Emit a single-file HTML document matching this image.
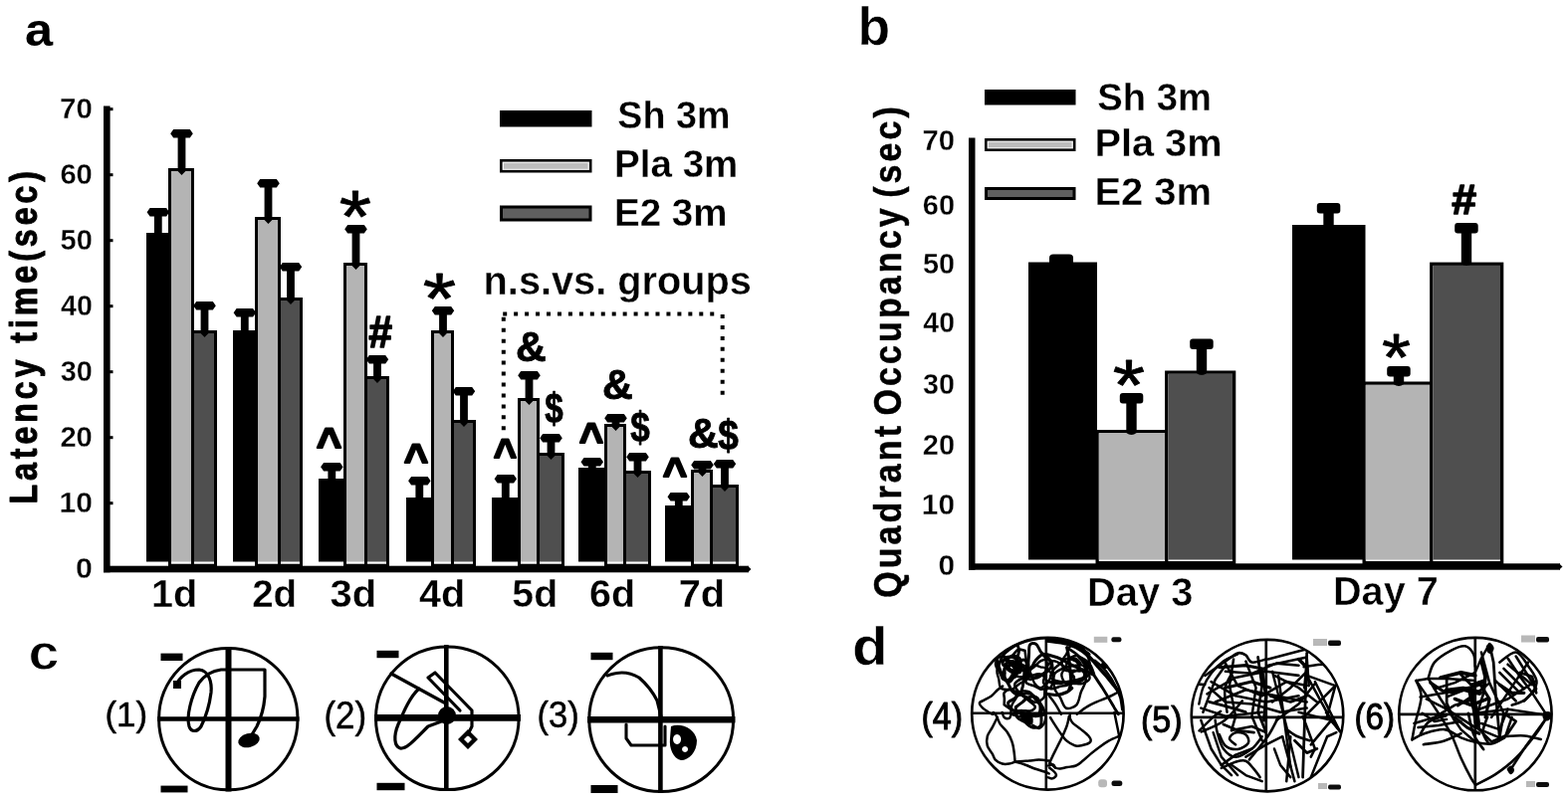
<!DOCTYPE html>
<html lang="en">
<head>
<meta charset="utf-8">
<title>Figure: latency time and quadrant occupancy</title>
<style>
html, body { margin: 0; padding: 0; background: #fff; }
body { width: 1575px; height: 807px; overflow: hidden; }
svg { display: block; }
svg text { font-family: "Liberation Sans", sans-serif; }
</style>
</head>
<body>
<svg width="1575" height="807" viewBox="0 0 1575 807" role="img" aria-label="Bar charts of latency time and quadrant occupancy with swim track plots">
<defs><filter id="soft" x="0" y="0" width="1575" height="807" filterUnits="userSpaceOnUse"><feGaussianBlur stdDeviation="0.5"/></filter></defs>
<rect width="1575" height="807" fill="#fff"/>
<g filter="url(#soft)">
<text transform="translate(24.99 45.54) scale(1.0885 1)" font-size="46.36" font-weight="bold" fill="#000">a</text>
<rect x="104.00" y="106.50" width="6.60" height="468.80" fill="#000"/>
<rect x="104.00" y="568.70" width="648.00" height="6.60" fill="#000"/>
<polygon points="751,568.7 754.5,572 751,575.3" fill="#000"/>
<text transform="translate(75.99 580.80) scale(1.0153 1)" font-size="29.86" font-weight="bold" fill="#000" stroke="#fff" stroke-width="0.3" stroke-linejoin="round">0</text>
<rect x="110.00" y="504.20" width="3.50" height="3.00" fill="#000"/>
<text transform="translate(59.45 514.80) scale(1.0064 1)" font-size="29.86" font-weight="bold" fill="#000" stroke="#fff" stroke-width="0.3" stroke-linejoin="round">10</text>
<rect x="110.00" y="438.20" width="3.50" height="3.00" fill="#000"/>
<text transform="translate(60.38 448.80) scale(0.9772 1)" font-size="29.86" font-weight="bold" fill="#000" stroke="#fff" stroke-width="0.3" stroke-linejoin="round">20</text>
<rect x="110.00" y="372.20" width="3.50" height="3.00" fill="#000"/>
<text transform="translate(60.68 382.80) scale(0.9679 1)" font-size="29.86" font-weight="bold" fill="#000" stroke="#fff" stroke-width="0.3" stroke-linejoin="round">30</text>
<rect x="110.00" y="306.20" width="3.50" height="3.00" fill="#000"/>
<text transform="translate(60.97 316.90) scale(0.9587 1)" font-size="29.86" font-weight="bold" fill="#000" stroke="#fff" stroke-width="0.3" stroke-linejoin="round">40</text>
<rect x="110.00" y="240.20" width="3.50" height="3.00" fill="#000"/>
<text transform="translate(60.53 250.70) scale(0.9725 1)" font-size="29.86" font-weight="bold" fill="#000" stroke="#fff" stroke-width="0.3" stroke-linejoin="round">50</text>
<rect x="110.00" y="174.20" width="3.50" height="3.00" fill="#000"/>
<text transform="translate(60.38 184.50) scale(0.9772 1)" font-size="29.86" font-weight="bold" fill="#000" stroke="#fff" stroke-width="0.3" stroke-linejoin="round">60</text>
<rect x="110.00" y="108.20" width="3.50" height="3.00" fill="#000"/>
<text transform="translate(60.07 119.20) scale(0.9867 1)" font-size="29.86" font-weight="bold" fill="#000" stroke="#fff" stroke-width="0.3" stroke-linejoin="round">70</text>
<text transform="translate(37.40 506.59) rotate(-90) scale(0.8200 1)" font-size="39.28" font-weight="bold" letter-spacing="4.77" word-spacing="0" stroke="#000" stroke-width="1.0" stroke-linejoin="round">Latency time(sec)</text>
<rect x="147.00" y="234.00" width="23.00" height="330.50" fill="#000"/>
<polygon points="147.6,213.2 150.6,209.0 167.1,209.0 170.1,213.2 167.1,217.4 162.7,217.4 162.7,235.0 154.9,235.0 154.9,217.4 150.6,217.4" fill="#000"/>
<rect x="170.50" y="170.50" width="23.00" height="397.70" fill="#fff" stroke="#000" stroke-width="3"/>
<rect x="172.00" y="172.00" width="20.00" height="392.50" fill="#b4b4b4"/>
<rect x="193.50" y="333.50" width="23.00" height="234.70" fill="#fff" stroke="#000" stroke-width="3"/>
<rect x="195.00" y="335.00" width="20.00" height="229.50" fill="#505050"/>
<polygon points="171.2,134.2 174.2,130.0 190.8,130.0 193.8,134.2 190.8,138.4 186.4,138.4 186.4,172.0 182.5,176.0 178.6,172.0 178.6,138.4 174.2,138.4" fill="#000"/>
<polygon points="194.2,307.2 197.2,303.0 213.8,303.0 216.8,307.2 213.8,311.4 209.4,311.4 209.4,335.0 205.5,339.0 201.6,335.0 201.6,311.4 197.2,311.4" fill="#000"/>
<text transform="translate(151.93 610.01) scale(1.0110 1)" font-size="39.18" font-weight="bold" fill="#000" stroke="#fff" stroke-width="0.3" stroke-linejoin="round">1d</text>
<rect x="234.00" y="332.00" width="23.00" height="232.50" fill="#000"/>
<polygon points="234.6,314.2 237.6,310.0 254.1,310.0 257.1,314.2 254.1,318.4 249.7,318.4 249.7,333.0 241.9,333.0 241.9,318.4 237.6,318.4" fill="#000"/>
<rect x="257.50" y="219.50" width="23.00" height="348.70" fill="#fff" stroke="#000" stroke-width="3"/>
<rect x="259.00" y="221.00" width="20.00" height="343.50" fill="#b4b4b4"/>
<rect x="280.50" y="300.50" width="22.00" height="267.70" fill="#fff" stroke="#000" stroke-width="3"/>
<rect x="282.00" y="302.00" width="19.00" height="262.50" fill="#505050"/>
<polygon points="258.2,184.2 261.2,180.0 277.8,180.0 280.8,184.2 277.8,188.4 273.4,188.4 273.4,221.0 269.5,225.0 265.6,221.0 265.6,188.4 261.2,188.4" fill="#000"/>
<polygon points="280.8,268.2 283.8,264.0 300.2,264.0 303.2,268.2 300.2,272.4 295.9,272.4 295.9,302.0 292.0,306.0 288.1,302.0 288.1,272.4 283.8,272.4" fill="#000"/>
<text transform="translate(253.15 610.01) scale(0.9825 1)" font-size="39.18" font-weight="bold" fill="#000" stroke="#fff" stroke-width="0.3" stroke-linejoin="round">2d</text>
<rect x="320.00" y="481.00" width="26.00" height="83.50" fill="#000"/>
<polygon points="322.1,469.2 325.1,465.0 341.6,465.0 344.6,469.2 341.6,473.4 337.2,473.4 337.2,482.0 329.4,482.0 329.4,473.4 325.1,473.4" fill="#000"/>
<rect x="346.50" y="265.50" width="21.00" height="302.70" fill="#fff" stroke="#000" stroke-width="3"/>
<rect x="348.00" y="267.00" width="18.00" height="297.50" fill="#b4b4b4"/>
<rect x="367.50" y="379.50" width="22.00" height="188.70" fill="#fff" stroke="#000" stroke-width="3"/>
<rect x="369.00" y="381.00" width="19.00" height="183.50" fill="#505050"/>
<polygon points="346.2,230.2 349.2,226.0 365.8,226.0 368.8,230.2 365.8,234.4 361.4,234.4 361.4,267.0 357.5,271.0 353.6,267.0 353.6,234.4 349.2,234.4" fill="#000"/>
<polygon points="367.8,361.2 370.8,357.0 387.2,357.0 390.2,361.2 387.2,365.4 382.9,365.4 382.9,381.0 379.0,385.0 375.1,381.0 375.1,365.4 370.8,365.4" fill="#000"/>
<text transform="translate(331.50 610.01) scale(1.0208 1)" font-size="39.18" font-weight="bold" fill="#000" stroke="#fff" stroke-width="0.3" stroke-linejoin="round">3d</text>
<rect x="408.00" y="500.00" width="26.00" height="64.50" fill="#000"/>
<polygon points="410.1,483.2 413.1,479.0 429.6,479.0 432.6,483.2 429.6,487.4 425.2,487.4 425.2,501.0 417.4,501.0 417.4,487.4 413.1,487.4" fill="#000"/>
<rect x="434.50" y="333.50" width="20.00" height="234.70" fill="#fff" stroke="#000" stroke-width="3"/>
<rect x="436.00" y="335.00" width="17.00" height="229.50" fill="#b4b4b4"/>
<rect x="454.50" y="423.50" width="22.00" height="144.70" fill="#fff" stroke="#000" stroke-width="3"/>
<rect x="456.00" y="425.00" width="19.00" height="139.50" fill="#505050"/>
<polygon points="433.8,312.2 436.8,308.0 453.2,308.0 456.2,312.2 453.2,316.4 448.9,316.4 448.9,335.0 445.0,339.0 441.1,335.0 441.1,316.4 436.8,316.4" fill="#000"/>
<polygon points="454.8,393.2 457.8,389.0 474.2,389.0 477.2,393.2 474.2,397.4 469.9,397.4 469.9,425.0 466.0,429.0 462.1,425.0 462.1,397.4 457.8,397.4" fill="#000"/>
<text transform="translate(420.91 610.01) scale(1.0114 1)" font-size="39.18" font-weight="bold" fill="#000" stroke="#fff" stroke-width="0.3" stroke-linejoin="round">4d</text>
<rect x="494.00" y="500.00" width="27.00" height="64.50" fill="#000"/>
<polygon points="496.6,481.2 499.6,477.0 516.0,477.0 519.0,481.2 516.0,485.4 511.7,485.4 511.7,501.0 503.9,501.0 503.9,485.4 499.6,485.4" fill="#000"/>
<rect x="521.50" y="401.50" width="19.00" height="166.70" fill="#fff" stroke="#000" stroke-width="3"/>
<rect x="523.00" y="403.00" width="16.00" height="161.50" fill="#b4b4b4"/>
<rect x="540.50" y="456.50" width="25.00" height="111.70" fill="#fff" stroke="#000" stroke-width="3"/>
<rect x="542.00" y="458.00" width="22.00" height="106.50" fill="#505050"/>
<polygon points="520.2,377.2 523.2,373.0 539.8,373.0 542.8,377.2 539.8,381.4 535.4,381.4 535.4,403.0 531.5,407.0 527.6,403.0 527.6,381.4 523.2,381.4" fill="#000"/>
<polygon points="542.2,440.2 545.2,436.0 561.8,436.0 564.8,440.2 561.8,444.4 557.4,444.4 557.4,458.0 553.5,462.0 549.6,458.0 549.6,444.4 545.2,444.4" fill="#000"/>
<text transform="translate(514.32 610.01) scale(1.0018 1)" font-size="39.18" font-weight="bold" fill="#000" stroke="#fff" stroke-width="0.3" stroke-linejoin="round">5d</text>
<rect x="581.00" y="470.00" width="27.00" height="94.50" fill="#000"/>
<polygon points="583.5,464.2 586.5,460.0 603.0,460.0 606.0,464.2 603.0,468.4 598.7,468.4 598.7,471.0 590.9,471.0 590.9,468.4 586.5,468.4" fill="#000"/>
<rect x="608.50" y="427.50" width="19.00" height="140.70" fill="#fff" stroke="#000" stroke-width="3"/>
<rect x="610.00" y="429.00" width="16.00" height="135.50" fill="#b4b4b4"/>
<rect x="627.50" y="474.50" width="25.00" height="93.70" fill="#fff" stroke="#000" stroke-width="3"/>
<rect x="629.00" y="476.00" width="22.00" height="88.50" fill="#505050"/>
<polygon points="607.2,420.2 610.2,416.0 626.8,416.0 629.8,420.2 626.8,424.4 622.4,424.4 622.4,429.0 618.5,433.0 614.6,429.0 614.6,424.4 610.2,424.4" fill="#000"/>
<polygon points="629.2,459.2 632.2,455.0 648.8,455.0 651.8,459.2 648.8,463.4 644.4,463.4 644.4,476.0 640.5,480.0 636.6,476.0 636.6,463.4 632.2,463.4" fill="#000"/>
<text transform="translate(592.12 610.01) scale(1.0065 1)" font-size="39.18" font-weight="bold" fill="#000" stroke="#fff" stroke-width="0.3" stroke-linejoin="round">6d</text>
<rect x="668.00" y="508.00" width="27.00" height="56.50" fill="#000"/>
<polygon points="670.5,499.2 673.5,495.0 690.0,495.0 693.0,499.2 690.0,503.4 685.7,503.4 685.7,509.0 677.9,509.0 677.9,503.4 673.5,503.4" fill="#000"/>
<rect x="695.50" y="473.50" width="19.00" height="94.70" fill="#fff" stroke="#000" stroke-width="3"/>
<rect x="697.00" y="475.00" width="16.00" height="89.50" fill="#b4b4b4"/>
<rect x="714.50" y="488.50" width="26.00" height="79.70" fill="#fff" stroke="#000" stroke-width="3"/>
<rect x="716.00" y="490.00" width="23.00" height="74.50" fill="#505050"/>
<polygon points="694.2,467.2 697.2,463.0 713.8,463.0 716.8,467.2 713.8,471.4 709.4,471.4 709.4,475.0 705.5,479.0 701.6,475.0 701.6,471.4 697.2,471.4" fill="#000"/>
<polygon points="716.8,466.2 719.8,462.0 736.2,462.0 739.2,466.2 736.2,470.4 731.9,470.4 731.9,490.0 728.0,494.0 724.1,490.0 724.1,470.4 719.8,470.4" fill="#000"/>
<text transform="translate(681.71 610.01) scale(1.0160 1)" font-size="39.18" font-weight="bold" fill="#000" stroke="#fff" stroke-width="0.3" stroke-linejoin="round">7d</text>
<rect x="502.00" y="111.00" width="92.50" height="16.50" fill="#000"/>
<rect x="503.30" y="161.30" width="89.90" height="10.90" fill="#f4f4f4" stroke="#000" stroke-width="2.6"/>
<rect x="506.00" y="163.80" width="84.50" height="5.90" fill="#bdbdbd"/>
<rect x="503.50" y="208.00" width="89.50" height="13.00" fill="#5e5e5e" stroke="#000" stroke-width="3"/>
<text transform="translate(620.37 128.91) scale(0.9553 1)" font-size="39.46" font-weight="bold" fill="#000" stroke="#fff" stroke-width="0.3" stroke-linejoin="round">Sh 3m</text>
<text transform="translate(616.99 177.91) scale(0.9854 1)" font-size="39.18" font-weight="bold" fill="#000" stroke="#fff" stroke-width="0.3" stroke-linejoin="round">Pla 3m</text>
<text transform="translate(616.99 226.91) scale(0.9844 1)" font-size="39.15" font-weight="bold" fill="#000" stroke="#fff" stroke-width="0.3" stroke-linejoin="round">E2 3m</text>
<text transform="translate(485.62 295.87) scale(0.9896 1)" font-size="40.13" font-weight="bold" fill="#000" stroke="#fff" stroke-width="0.35" stroke-linejoin="round">n.s.vs. groups</text>
<g fill="none" stroke="#000" stroke-width="4" stroke-dasharray="4 6.95"><path d="M505.2,315.6 H719"/><path d="M725.7,316 V397"/><path d="M505.8,318.8 V433"/></g>
<text transform="translate(340.84 242.76) scale(1.1154 1)" font-size="74.29" font-weight="normal" fill="#000" stroke="#000" stroke-width="0.8" stroke-linejoin="round">*</text>
<text transform="translate(424.79 324.79) scale(1.2000 1)" font-size="71.43" font-weight="normal" fill="#000" stroke="#000" stroke-width="0.8" stroke-linejoin="round">*</text>
<text transform="translate(370.16 349.20) scale(0.9544 1)" font-size="44.71" font-weight="bold" fill="#000" stroke="#000" stroke-width="1.5" stroke-linejoin="round">#</text>
<text transform="translate(317.71 460.57) scale(0.9807 1)" font-size="44.60" font-weight="bold" fill="#000" stroke="#000" stroke-width="2.0" stroke-linejoin="round">^</text>
<text transform="translate(405.75 475.99) scale(0.9898 1)" font-size="42.30" font-weight="bold" fill="#000" stroke="#000" stroke-width="2.0" stroke-linejoin="round">^</text>
<text transform="translate(495.80 470.99) scale(0.9457 1)" font-size="42.30" font-weight="bold" fill="#000" stroke="#000" stroke-width="2.0" stroke-linejoin="round">^</text>
<text transform="translate(581.75 455.57) scale(0.9388 1)" font-size="44.60" font-weight="bold" fill="#000" stroke="#000" stroke-width="2.0" stroke-linejoin="round">^</text>
<text transform="translate(665.75 489.99) scale(0.9898 1)" font-size="42.30" font-weight="bold" fill="#000" stroke="#000" stroke-width="2.0" stroke-linejoin="round">^</text>
<text transform="translate(517.89 362.77) scale(0.9782 1)" font-size="43.43" font-weight="bold" fill="#000" stroke="#000" stroke-width="0.9" stroke-linejoin="round">&amp;</text>
<text transform="translate(604.89 400.77) scale(0.9782 1)" font-size="43.43" font-weight="bold" fill="#000" stroke="#000" stroke-width="0.9" stroke-linejoin="round">&amp;</text>
<text transform="translate(690.89 449.77) scale(0.9782 1)" font-size="43.43" font-weight="bold" fill="#000" stroke="#000" stroke-width="0.9" stroke-linejoin="round">&amp;</text>
<text transform="translate(547.30 424.94) scale(0.7630 1)" font-size="43.44" font-weight="bold" fill="#000" stroke="#000" stroke-width="0.9" stroke-linejoin="round">$</text>
<text transform="translate(633.27 443.94) scale(0.8069 1)" font-size="43.44" font-weight="bold" fill="#000" stroke="#000" stroke-width="0.9" stroke-linejoin="round">$</text>
<text transform="translate(721.25 451.94) scale(0.8507 1)" font-size="43.44" font-weight="bold" fill="#000" stroke="#000" stroke-width="0.9" stroke-linejoin="round">$</text>
<text transform="translate(861.52 44.97) scale(1.0076 1)" font-size="53.06" font-weight="bold" fill="#000" stroke="#fff" stroke-width="0.5" stroke-linejoin="round">b</text>
<rect x="973.00" y="138.50" width="6.50" height="434.20" fill="#000"/>
<rect x="973.00" y="566.30" width="594.00" height="6.40" fill="#000"/>
<polygon points="1566,566.3 1569.5,569.5 1566,572.7" fill="#000"/>
<text transform="translate(926.48 151.40) scale(0.9802 1)" font-size="29.86" font-weight="bold" fill="#000" stroke="#fff" stroke-width="0.3" stroke-linejoin="round">70</text>
<text transform="translate(926.79 215.80) scale(0.9707 1)" font-size="29.86" font-weight="bold" fill="#000" stroke="#fff" stroke-width="0.3" stroke-linejoin="round">60</text>
<text transform="translate(926.93 274.80) scale(0.9661 1)" font-size="29.86" font-weight="bold" fill="#000" stroke="#fff" stroke-width="0.3" stroke-linejoin="round">50</text>
<text transform="translate(927.37 334.30) scale(0.9523 1)" font-size="29.86" font-weight="bold" fill="#000" stroke="#fff" stroke-width="0.3" stroke-linejoin="round">40</text>
<text transform="translate(927.08 396.30) scale(0.9615 1)" font-size="29.86" font-weight="bold" fill="#000" stroke="#fff" stroke-width="0.3" stroke-linejoin="round">30</text>
<text transform="translate(926.79 456.80) scale(0.9707 1)" font-size="29.86" font-weight="bold" fill="#000" stroke="#fff" stroke-width="0.3" stroke-linejoin="round">20</text>
<text transform="translate(925.86 516.80) scale(0.9997 1)" font-size="29.86" font-weight="bold" fill="#000" stroke="#fff" stroke-width="0.3" stroke-linejoin="round">10</text>
<text transform="translate(942.40 578.30) scale(1.0012 1)" font-size="29.86" font-weight="bold" fill="#000" stroke="#fff" stroke-width="0.3" stroke-linejoin="round">0</text>
<text transform="translate(904.50 600.86) rotate(-90) scale(0.8600 1)" font-size="39.57" font-weight="bold" letter-spacing="3.60" word-spacing="-6" stroke="#000" stroke-width="0.5" stroke-linejoin="round">Quadrant Occupancy (sec)</text>
<rect x="1033.00" y="263.50" width="69.00" height="299.00" fill="#000"/>
<path d="M1054,264 V259 Q1054,255.5 1058,255.5 H1074 Q1078,255.5 1078,259 V264 Z" fill="#000"/>
<rect x="1102.15" y="433.65" width="69.60" height="132.00" fill="#fff" stroke="#000" stroke-width="3.3"/>
<rect x="1103.80" y="435.30" width="66.30" height="127.20" fill="#b4b4b4"/>
<rect x="1171.75" y="374.15" width="67.90" height="191.50" fill="#fff" stroke="#000" stroke-width="3.3"/>
<rect x="1173.40" y="375.80" width="64.60" height="186.70" fill="#505050"/>
<rect x="1124.8" y="395.0" width="23.5" height="10.4" rx="3" fill="#000"/>
<path d="M1131.3,397.0 H1141.7 V435.0 Q1136.5,439.0 1131.3,435.0 Z" fill="#000"/>
<rect x="1195.2" y="340.5" width="23.5" height="10.4" rx="3" fill="#000"/>
<path d="M1201.8,342.5 H1212.2 V375.0 Q1207.0,379.0 1201.8,375.0 Z" fill="#000"/>
<rect x="1298.00" y="226.00" width="73.50" height="336.50" fill="#000"/>
<rect x="1322.8" y="204.0" width="23.5" height="10.4" rx="3" fill="#000"/>
<path d="M1329.3,206.0 H1339.7 V228.0 Q1334.5,232.0 1329.3,228.0 Z" fill="#000"/>
<rect x="1370.15" y="385.15" width="67.60" height="180.50" fill="#fff" stroke="#000" stroke-width="3.3"/>
<rect x="1371.80" y="386.80" width="64.30" height="175.70" fill="#b4b4b4"/>
<rect x="1437.75" y="265.25" width="70.90" height="300.40" fill="#fff" stroke="#000" stroke-width="3.3"/>
<rect x="1439.40" y="266.90" width="67.60" height="295.60" fill="#505050"/>
<rect x="1393.2" y="368.0" width="23.5" height="10.4" rx="3" fill="#000"/>
<path d="M1399.8,370.0 H1410.2 V386.0 Q1405.0,390.0 1399.8,386.0 Z" fill="#000"/>
<rect x="1461.2" y="224.0" width="23.5" height="10.4" rx="3" fill="#000"/>
<path d="M1467.8,226.0 H1478.2 V265.0 Q1473.0,269.0 1467.8,265.0 Z" fill="#000"/>
<text transform="translate(1117.84 411.79) scale(1.1600 1)" font-size="71.43" font-weight="normal" fill="#000" stroke="#000" stroke-width="0.8" stroke-linejoin="round">*</text>
<text transform="translate(1388.01 381.84) scale(1.1304 1)" font-size="65.71" font-weight="normal" fill="#000" stroke="#000" stroke-width="0.8" stroke-linejoin="round">*</text>
<text transform="translate(1458.13 215.20) scale(1.0672 1)" font-size="41.76" font-weight="bold" fill="#000" stroke="#000" stroke-width="1.5" stroke-linejoin="round">#</text>
<text transform="translate(1091.90 608.58) scale(0.9963 1)" font-size="40.11" font-weight="bold" fill="#000" stroke="#fff" stroke-width="0.5" stroke-linejoin="round">Day 3</text>
<text transform="translate(1338.92 608.48) scale(0.9795 1)" font-size="40.56" font-weight="bold" fill="#000" stroke="#fff" stroke-width="0.5" stroke-linejoin="round">Day 7</text>
<rect x="989.00" y="90.00" width="91.50" height="15.50" fill="#000"/>
<rect x="990.30" y="140.30" width="88.90" height="10.40" fill="#f4f4f4" stroke="#000" stroke-width="2.6"/>
<rect x="993.00" y="142.80" width="83.50" height="5.40" fill="#bdbdbd"/>
<rect x="990.50" y="189.50" width="88.50" height="10.00" fill="#5e5e5e" stroke="#000" stroke-width="3"/>
<text transform="translate(1102.35 110.61) scale(0.9854 1)" font-size="38.78" font-weight="bold" fill="#000" stroke="#fff" stroke-width="0.3" stroke-linejoin="round">Sh 3m</text>
<text transform="translate(1099.42 156.61) scale(1.0249 1)" font-size="38.78" font-weight="bold" fill="#000" stroke="#fff" stroke-width="0.3" stroke-linejoin="round">Pla 3m</text>
<text transform="translate(1099.40 205.61) scale(1.0318 1)" font-size="38.73" font-weight="bold" fill="#000" stroke="#fff" stroke-width="0.3" stroke-linejoin="round">E2 3m</text>
<text transform="translate(28.57 672.50) scale(1.1134 1)" font-size="50.00" font-weight="bold" fill="#000" stroke="#fff" stroke-width="0.9" stroke-linejoin="round">c</text>
<text transform="translate(105.40 730.48) scale(0.9769 1)" font-size="35.83" font-weight="normal" fill="#000" stroke="#000" stroke-width="0.5" stroke-linejoin="round">(1)</text>
<text transform="translate(325.40 732.03) scale(0.9218 1)" font-size="37.97" font-weight="normal" fill="#000" stroke="#000" stroke-width="0.5" stroke-linejoin="round">(2)</text>
<text transform="translate(539.43 731.25) scale(0.9362 1)" font-size="36.90" font-weight="normal" fill="#000" stroke="#000" stroke-width="0.5" stroke-linejoin="round">(3)</text>
<g fill="none" stroke="#000" stroke-linecap="round" stroke-linejoin="round">
<!-- circle 1 -->
<ellipse cx="229.3" cy="722.6" rx="69.7" ry="71.2" stroke-width="3"/>
<path d="M229.5,650 V795.5" stroke-width="6" stroke-linecap="butt"/>
<path d="M158,722.5 H300.5" stroke-width="4.4" stroke-linecap="butt"/>
<path d="M176,690 C180,680 190,673 200,673 C210,674 213,686 212,696 C210,712 206,722 202,730 C198,736 192,736 190,730 C187,720 192,700 200,686 C206,678 214,674 222,673 H266 V700 C265,712 262,722 258,730 L252,740" stroke-width="3.2"/>
<!-- circle 2 -->
<circle cx="449.3" cy="721.8" r="71.8" stroke-width="3"/>
<path d="M448.3,648 V795" stroke-width="4.6" stroke-linecap="butt"/>
<path d="M376,721.4 H523" stroke-width="6.6" stroke-linecap="butt"/>
<path d="M393,677 L446,706 M430,681 L437,676 L474,714 V730 L470,738 M430,681 L462,714 M421,692 C412,700 406,714 400,728 C395,740 396,750 402,752 C408,753 414,746 430,730 L446,724" stroke-width="3.2"/>
<!-- circle 3 -->
<circle cx="664.2" cy="723.2" r="72.4" stroke-width="3"/>
<path d="M663.4,649 V797" stroke-width="4.6" stroke-linecap="butt"/>
<path d="M590,723.2 H738.5" stroke-width="6.4" stroke-linecap="butt"/>
<path d="M610,679 C620,675 632,675 642,681 C650,688 656,696 660,704 L664,720 M629,728 V742 L634,749 H668 V730" stroke-width="3.1"/>
</g>
<g fill="#000">
<ellipse cx="250" cy="744" rx="11" ry="7" transform="rotate(-15 250 744)"/>
<rect x="174" y="684" width="8" height="8"/>
<circle cx="449" cy="719" r="9"/>
<path d="M470,733 L480,743 L470,753 L460,743 Z M470,739 L466,743 L470,747 L474,743 Z" fill-rule="evenodd"/>
<path d="M674,730 C684,726 698,732 700,744 C700,756 692,764 684,764 C676,762 672,752 673,742 Z M680,738 a4,5 0 1,0 0.1,0 Z M688,750 a3,3 0 1,0 0.1,0 Z" fill-rule="evenodd"/>
<rect x="161.5" y="656.6" width="22" height="7.4"/><rect x="161.5" y="789.6" width="27" height="6.8"/>
<rect x="378.5" y="653.8" width="22" height="7.4"/><rect x="378.5" y="786.8" width="28" height="7.4"/>
<rect x="593.5" y="655.8" width="22" height="7.4"/><rect x="593.5" y="789" width="27" height="8"/>
</g>

<text transform="translate(855.96 667.66) scale(1.0734 1)" font-size="54.42" font-weight="bold" fill="#000" stroke="#fff" stroke-width="0.5" stroke-linejoin="round">d</text>
<text transform="translate(925.45 733.03) scale(0.8979 1)" font-size="37.97" font-weight="normal" fill="#000" stroke="#000" stroke-width="1.0" stroke-linejoin="round">(4)</text>
<text transform="translate(1145.95 736.25) scale(0.9239 1)" font-size="36.90" font-weight="normal" fill="#000" stroke="#000" stroke-width="1.0" stroke-linejoin="round">(5)</text>
<text transform="translate(1360.51 733.25) scale(0.8993 1)" font-size="36.90" font-weight="normal" fill="#000" stroke="#000" stroke-width="1.0" stroke-linejoin="round">(6)</text>
<clipPath id="clip4"><ellipse cx="1052.4" cy="717.2" rx="76" ry="76.2"/></clipPath>
<g fill="none" stroke="#000" stroke-width="2.5" stroke-linecap="round" stroke-linejoin="round">
<ellipse cx="1052.4" cy="717.2" rx="76.2" ry="76.4" stroke-width="2.7"/>
<g clip-path="url(#clip4)">
<path d="M1050.8,640 V794 M976,716.8 H1130" stroke-width="2.6"/>
<path d="M1029.5,653.9 C1029.7,655.4 1030.4,660.1 1030.7,662.8 C1030.9,665.6 1031.3,667.5 1031.0,670.3 C1030.6,673.0 1030.3,677.7 1028.8,679.3 C1027.3,680.9 1023.9,680.3 1021.9,679.8 C1019.9,679.2 1018.8,677.4 1017.1,676.1 C1015.3,674.8 1012.2,674.1 1011.4,671.9 C1010.6,669.6 1011.2,665.0 1012.2,662.6 C1013.3,660.3 1016.0,659.6 1017.8,658.0 C1019.5,656.3 1020.8,653.5 1022.7,652.8 C1024.7,652.1 1028.4,653.7 1029.5,653.9" stroke-width="2.6"/>
<path d="M1036.6,670.5 C1037.2,669.3 1038.5,665.7 1040.4,663.5 C1042.3,661.4 1046.0,657.8 1048.0,657.3 C1050.0,656.8 1051.4,659.2 1052.5,660.4 C1053.6,661.5 1054.2,662.6 1054.7,664.2 C1055.3,665.9 1056.8,668.2 1055.8,670.4 C1054.8,672.6 1051.0,675.8 1048.7,677.4 C1046.5,679.0 1044.5,678.8 1042.2,679.7 C1039.8,680.7 1036.5,683.1 1034.8,682.8 C1033.1,682.6 1031.6,680.2 1031.9,678.2 C1032.2,676.1 1035.8,671.8 1036.6,670.5" stroke-width="3.0"/>
<path d="M1052.1,673.6 C1051.2,674.4 1048.4,676.8 1046.8,678.0 C1045.1,679.3 1044.0,680.6 1042.1,680.9 C1040.3,681.2 1037.1,681.8 1035.6,679.7 C1034.0,677.6 1033.4,671.6 1033.0,668.1 C1032.7,664.7 1033.3,662.3 1033.5,659.0 C1033.8,655.6 1033.2,650.1 1034.4,648.2 C1035.5,646.2 1038.8,646.1 1040.6,647.2 C1042.5,648.4 1043.8,652.6 1045.5,655.1 C1047.2,657.5 1049.5,658.9 1050.6,662.0 C1051.7,665.0 1051.9,671.7 1052.1,673.6" stroke-width="3.0"/>
<path d="M1007.1,682.0 C1006.6,680.8 1005.2,677.3 1004.1,675.0 C1002.9,672.7 1000.5,670.5 1000.3,668.1 C1000.1,665.6 1001.3,661.7 1003.0,660.4 C1004.6,659.1 1008.0,660.4 1010.2,660.4 C1012.4,660.4 1014.2,659.6 1016.4,660.4 C1018.5,661.1 1022.2,662.7 1023.1,664.8 C1024.0,667.0 1022.5,670.8 1021.8,673.2 C1021.1,675.5 1020.0,676.9 1018.7,678.9 C1017.5,680.9 1016.1,684.6 1014.2,685.2 C1012.2,685.7 1008.3,682.5 1007.1,682.0" stroke-width="3.0"/>
<path d="M1008.7,708.2 C1008.7,707.1 1008.9,703.9 1008.9,702.0 C1008.9,700.0 1007.7,697.9 1008.6,696.4 C1009.6,694.9 1011.9,692.6 1014.6,692.9 C1017.3,693.2 1022.0,696.3 1024.9,698.0 C1027.8,699.7 1029.6,701.1 1032.0,703.1 C1034.5,705.1 1039.2,708.1 1039.7,710.0 C1040.2,711.9 1037.3,713.8 1035.1,714.5 C1033.0,715.1 1029.6,714.1 1026.7,714.1 C1023.9,714.0 1020.9,715.2 1017.9,714.2 C1014.9,713.2 1010.2,709.2 1008.7,708.2" stroke-width="2.6"/>
<path d="M1035.3,679.4 C1037.0,679.1 1042.8,676.6 1045.5,677.6 C1048.2,678.5 1050.9,682.6 1051.6,685.2 C1052.2,687.7 1050.0,690.3 1049.5,693.0 C1049.0,695.7 1050.1,699.1 1048.4,701.2 C1046.7,703.4 1042.3,705.8 1039.4,705.7 C1036.5,705.5 1033.5,702.1 1030.8,700.4 C1028.2,698.8 1025.7,698.0 1023.7,695.8 C1021.8,693.7 1018.6,689.8 1019.2,687.5 C1019.7,685.1 1024.4,682.9 1027.1,681.6 C1029.8,680.2 1033.9,679.8 1035.3,679.4" stroke-width="2.6"/>
<path d="M1056.5,677.2 C1056.1,678.3 1054.9,681.7 1053.9,683.4 C1052.9,685.1 1051.9,686.2 1050.5,687.5 C1049.0,688.8 1047.0,691.4 1045.1,691.2 C1043.2,691.0 1040.4,688.2 1039.0,686.4 C1037.7,684.6 1037.8,682.4 1037.0,680.2 C1036.2,678.1 1034.1,675.5 1034.3,673.5 C1034.5,671.5 1036.6,668.9 1038.4,668.4 C1040.2,667.9 1043.0,669.8 1045.1,670.3 C1047.2,670.8 1049.2,670.5 1051.1,671.6 C1053.0,672.8 1055.6,676.3 1056.5,677.2" stroke-width="2.4"/>
<path d="M1045.0,708.8 C1044.7,710.2 1045.0,715.7 1043.1,717.4 C1041.2,719.1 1036.5,718.7 1033.5,719.2 C1030.6,719.6 1028.5,720.4 1025.6,720.2 C1022.7,719.9 1017.7,719.5 1016.2,717.6 C1014.6,715.7 1015.7,711.3 1016.4,708.7 C1017.1,706.2 1018.8,704.7 1020.2,702.4 C1021.7,700.0 1022.7,696.0 1025.2,694.9 C1027.6,693.8 1032.5,694.6 1034.9,695.9 C1037.3,697.2 1037.9,700.5 1039.5,702.6 C1041.2,704.8 1044.1,707.8 1045.0,708.8" stroke-width="2.4"/>
<path d="M1016.6,693.2 C1014.8,693.0 1007.8,693.5 1005.6,691.7 C1003.4,689.8 1003.9,685.1 1003.2,682.2 C1002.5,679.3 1001.2,677.1 1001.4,674.2 C1001.7,671.2 1002.3,666.1 1004.7,664.5 C1007.1,662.8 1012.7,663.8 1016.0,664.3 C1019.3,664.7 1021.3,666.1 1024.3,667.4 C1027.3,668.7 1032.6,669.5 1034.0,671.9 C1035.4,674.3 1034.2,679.3 1032.6,681.9 C1031.0,684.4 1027.0,685.2 1024.3,687.1 C1021.7,689.0 1017.9,692.2 1016.6,693.2" stroke-width="2.4"/>
<path d="M1050.0,717.9 C1048.4,718.2 1043.4,720.0 1040.0,719.8 C1036.6,719.7 1033.3,717.8 1029.7,716.9 C1026.1,715.9 1021.2,715.9 1018.4,714.2 C1015.5,712.5 1012.4,708.8 1012.5,706.8 C1012.5,704.8 1016.8,703.7 1018.7,702.2 C1020.6,700.8 1021.1,698.9 1023.8,698.1 C1026.5,697.2 1031.6,696.2 1034.8,697.2 C1038.0,698.3 1040.9,702.1 1042.9,704.3 C1044.9,706.4 1045.8,708.1 1047.0,710.3 C1048.2,712.6 1049.5,716.6 1050.0,717.9" stroke-width="3.0"/>
<path d="M1013.1,648.9 C1014.2,648.4 1018.1,644.7 1019.8,645.5 C1021.5,646.3 1023.4,650.6 1023.5,653.9 C1023.6,657.1 1021.3,661.5 1020.4,665.2 C1019.6,668.8 1019.5,672.5 1018.1,675.6 C1016.7,678.7 1013.8,683.5 1011.9,683.8 C1010.0,684.2 1008.2,679.9 1006.9,677.8 C1005.5,675.7 1004.7,674.0 1003.8,671.2 C1002.9,668.4 1000.9,664.3 1001.5,661.0 C1002.1,657.7 1005.2,653.4 1007.2,651.4 C1009.1,649.4 1012.1,649.3 1013.1,648.9" stroke-width="3.0"/>
<path d="M1020.3,710.6 C1021.4,709.8 1025.0,707.2 1027.1,705.6 C1029.2,704.0 1030.5,701.6 1032.9,700.9 C1035.4,700.2 1039.9,699.6 1041.9,701.3 C1044.0,703.0 1044.6,708.3 1045.3,711.3 C1045.9,714.3 1045.9,716.5 1045.9,719.6 C1045.9,722.6 1046.6,727.7 1045.0,729.6 C1043.4,731.5 1038.9,731.4 1036.3,730.7 C1033.7,730.1 1031.9,727.3 1029.4,725.6 C1027.0,724.0 1023.2,723.3 1021.7,720.8 C1020.2,718.3 1020.5,712.3 1020.3,710.6" stroke-width="3.0"/>
<path d="M1045.6,692.7 C1044.5,692.2 1041.3,690.5 1038.8,689.4 C1036.3,688.3 1032.0,688.2 1030.7,685.9 C1029.4,683.7 1029.8,678.7 1031.2,676.0 C1032.6,673.4 1036.6,672.1 1039.0,670.1 C1041.4,668.1 1043.1,665.1 1045.8,664.0 C1048.6,662.9 1053.5,662.1 1055.5,663.6 C1057.4,665.1 1057.1,670.0 1057.5,672.9 C1057.9,675.7 1058.3,677.8 1057.9,680.8 C1057.5,683.7 1057.4,688.8 1055.4,690.8 C1053.3,692.8 1047.3,692.4 1045.6,692.7" stroke-width="2.6"/>
<path d="M1008.0,679.4 C1008.3,677.8 1008.5,671.6 1009.9,669.7 C1011.2,667.8 1014.2,668.8 1016.2,668.2 C1018.2,667.6 1019.8,665.6 1021.9,666.0 C1023.9,666.5 1027.4,668.4 1028.5,671.0 C1029.6,673.6 1028.6,678.5 1028.4,681.7 C1028.2,684.8 1028.0,687.0 1027.3,689.8 C1026.5,692.6 1025.7,697.6 1024.0,698.5 C1022.2,699.3 1018.8,696.8 1017.0,695.0 C1015.2,693.1 1014.4,690.1 1012.9,687.5 C1011.4,685.0 1008.8,680.8 1008.0,679.4" stroke-width="3.0"/>
<path d="M1016.8,681.5 C1016.3,681.9 1014.8,683.8 1013.6,683.9 C1012.3,684.0 1010.2,683.3 1009.5,682.1 C1008.7,680.8 1009.2,678.0 1009.1,676.2 C1009.1,674.5 1009.0,673.2 1009.3,671.5 C1009.6,669.8 1010.1,666.9 1011.1,666.2 C1012.1,665.4 1014.1,666.4 1015.3,667.1 C1016.5,667.7 1017.1,669.1 1018.1,670.2 C1019.1,671.3 1021.0,672.3 1021.4,673.8 C1021.8,675.4 1021.2,678.2 1020.5,679.5 C1019.7,680.8 1017.4,681.1 1016.8,681.5" stroke-width="3.0"/>
<path d="M1016.3,673.8 C1015.8,673.4 1013.6,672.2 1013.3,671.3 C1012.9,670.4 1013.9,669.3 1014.2,668.5 C1014.5,667.6 1014.6,666.9 1015.2,666.2 C1015.8,665.6 1016.8,664.4 1017.8,664.5 C1018.8,664.5 1020.3,665.8 1021.2,666.6 C1022.0,667.4 1022.3,668.1 1023.0,669.0 C1023.6,669.9 1025.0,671.2 1025.0,672.0 C1025.0,672.9 1023.9,673.9 1023.0,674.2 C1022.1,674.5 1020.7,673.9 1019.6,673.8 C1018.5,673.8 1016.8,673.8 1016.3,673.8" stroke-width="3.0"/>
<path d="M1031.3,665.0 C1031.3,665.5 1031.4,667.1 1031.6,668.2 C1031.8,669.2 1032.5,670.3 1032.3,671.3 C1032.0,672.3 1031.0,673.8 1030.0,674.1 C1028.9,674.4 1027.3,673.4 1026.2,673.1 C1025.1,672.8 1024.2,672.6 1023.2,672.0 C1022.2,671.5 1020.5,670.5 1020.3,669.6 C1020.1,668.6 1021.3,667.2 1022.1,666.4 C1022.8,665.6 1023.8,665.4 1024.8,664.8 C1025.7,664.3 1026.9,663.0 1028.0,663.0 C1029.1,663.0 1030.7,664.6 1031.3,665.0" stroke-width="3.0"/>
<path d="M1026.2,671.2 C1025.8,672.0 1025.6,675.4 1024.2,675.9 C1022.8,676.5 1019.6,675.3 1017.7,674.6 C1015.9,673.9 1014.7,672.9 1013.0,671.8 C1011.3,670.7 1008.3,669.6 1007.6,668.1 C1006.8,666.6 1007.5,664.1 1008.5,663.0 C1009.4,661.8 1011.7,661.9 1013.3,661.2 C1014.8,660.6 1016.0,659.0 1017.8,659.0 C1019.5,659.0 1022.7,660.0 1024.0,661.3 C1025.2,662.5 1024.9,665.0 1025.3,666.7 C1025.6,668.3 1026.0,670.4 1026.2,671.2" stroke-width="3.0"/>
<path d="M1069.6,671.0 C1071.0,670.7 1075.0,669.3 1078.2,669.1 C1081.5,668.8 1086.8,667.2 1088.9,669.6 C1091.0,672.0 1091.2,679.4 1090.7,683.7 C1090.2,688.0 1087.5,691.2 1085.9,695.3 C1084.4,699.4 1083.9,705.6 1081.4,708.3 C1078.9,711.0 1073.5,712.7 1070.7,711.5 C1068.0,710.2 1066.8,704.1 1064.9,700.9 C1063.0,697.6 1060.3,695.9 1059.4,691.9 C1058.5,688.0 1057.6,680.8 1059.3,677.3 C1060.9,673.8 1067.8,672.1 1069.6,671.0" stroke-width="2.5"/>
<path d="M1084.6,671.3 C1085.4,672.4 1089.3,675.4 1089.3,677.7 C1089.3,679.9 1087.2,683.7 1084.6,684.9 C1082.1,686.2 1077.2,685.1 1073.9,685.1 C1070.6,685.1 1067.9,685.7 1064.8,685.1 C1061.7,684.5 1056.4,683.2 1055.3,681.2 C1054.2,679.3 1056.7,675.6 1058.0,673.4 C1059.4,671.3 1061.3,670.0 1063.4,668.2 C1065.6,666.3 1067.9,662.8 1070.8,662.2 C1073.7,661.7 1078.7,663.3 1081.0,664.8 C1083.3,666.4 1084.0,670.3 1084.6,671.3" stroke-width="2.5"/>
<path d="M1064.7,689.8 C1063.2,690.2 1058.5,692.8 1055.7,692.3 C1053.0,691.7 1049.1,688.7 1048.2,686.3 C1047.2,683.9 1049.5,680.6 1050.1,678.0 C1050.6,675.3 1049.9,672.7 1051.2,670.4 C1052.6,668.1 1055.7,664.5 1058.3,664.2 C1061.0,663.9 1064.8,667.0 1067.2,668.6 C1069.7,670.1 1071.2,671.5 1073.2,673.6 C1075.1,675.6 1079.0,678.6 1079.0,681.0 C1078.9,683.4 1075.4,686.7 1073.0,688.1 C1070.7,689.6 1066.1,689.5 1064.7,689.8" stroke-width="2.5"/>
<path d="M1078.9,673.8 C1077.4,673.8 1072.2,675.2 1070.1,673.8 C1068.1,672.4 1066.4,668.0 1066.5,665.3 C1066.7,662.6 1069.7,660.1 1071.1,657.5 C1072.5,655.0 1072.7,651.8 1074.7,649.9 C1076.8,648.0 1080.9,645.6 1083.3,646.2 C1085.7,646.7 1087.4,651.0 1089.0,653.2 C1090.5,655.5 1091.7,657.0 1092.6,659.7 C1093.5,662.3 1095.5,666.6 1094.5,669.0 C1093.4,671.4 1089.0,673.2 1086.4,674.1 C1083.8,674.9 1080.1,673.9 1078.9,673.8" stroke-width="2.5"/>
<path d="M1092.1,672.7 C1092.5,674.3 1095.3,679.7 1094.4,682.1 C1093.5,684.5 1089.2,686.3 1086.6,687.0 C1084.0,687.8 1081.7,686.8 1079.0,686.7 C1076.3,686.7 1072.4,688.0 1070.3,686.6 C1068.2,685.2 1066.3,680.8 1066.3,678.1 C1066.3,675.3 1069.2,672.9 1070.4,670.3 C1071.7,667.8 1071.7,664.6 1073.7,662.7 C1075.6,660.9 1079.6,658.5 1082.0,659.1 C1084.4,659.7 1086.4,664.0 1088.1,666.3 C1089.8,668.5 1091.4,671.7 1092.1,672.7" stroke-width="2.5"/>
<path d="M1007.2,689.5 C1006.3,690.2 1003.7,691.9 1001.8,693.5 C999.9,695.2 998.0,697.8 995.8,699.5 C993.7,701.1 990.9,702.3 988.9,703.4 C986.9,704.6 984.2,705.1 983.9,706.4 C983.6,707.7 985.2,709.7 986.9,711.4 C988.5,713.0 992.1,715.2 993.8,716.3 C995.6,717.4 996.7,717.6 997.3,717.8"/>
<path d="M1003.7,667.7 C1004.2,666.4 1005.1,662.3 1006.7,659.8 C1008.4,657.3 1010.8,655.0 1013.7,652.9 C1016.5,650.7 1019.9,648.6 1023.6,646.9 C1027.2,645.3 1030.5,644.0 1035.5,643.0 C1040.4,641.9 1050.3,640.9 1053.3,640.5" stroke-width="2.9"/>
<path d="M1052.0,643.9 C1055.3,644.4 1066.0,645.3 1071.8,646.9 C1077.6,648.6 1082.6,651.2 1086.7,653.9 C1090.8,656.5 1093.8,660.0 1096.6,662.8 C1099.4,665.6 1101.1,667.9 1103.5,670.7 C1106.0,673.5 1108.8,676.5 1111.5,679.6 C1114.1,682.8 1117.1,686.6 1119.4,689.5 C1121.7,692.5 1124.4,696.2 1125.4,697.5" stroke-width="3.6"/>
<path d="M1052.0,642.0 C1054.5,642.1 1061.9,641.8 1066.9,643.0 C1071.8,644.1 1077.3,646.4 1081.7,648.9 C1086.2,651.4 1091.7,656.3 1093.6,657.8" stroke-width="3.8"/>
<path d="M1052.0,657.8 C1053.7,658.3 1058.6,659.5 1061.9,660.8 C1065.2,662.1 1068.5,664.1 1071.8,665.8 C1075.1,667.4 1078.4,669.2 1081.7,670.7 C1085.0,672.2 1089.0,673.5 1091.7,674.7 C1094.3,675.8 1096.6,677.2 1097.6,677.7" stroke-width="3.1"/>
<path d="M1052.0,684.6 C1053.7,684.9 1058.6,686.4 1061.9,686.6 C1065.2,686.7 1068.5,686.1 1071.8,685.6 C1075.1,685.1 1078.4,684.6 1081.7,683.6 C1085.0,682.6 1089.3,681.0 1091.7,679.6 C1094.0,678.3 1095.0,676.3 1095.6,675.7" stroke-width="3.1"/>
<path d="M1052.0,697.5 C1053.7,697.6 1058.6,698.8 1061.9,698.5 C1065.2,698.1 1069.3,696.7 1071.8,695.5 C1074.3,694.3 1076.0,692.2 1076.8,691.5" stroke-width="3.1"/>
<path d="M1071.8,650.9 C1072.2,652.9 1073.3,659.1 1073.8,662.8 C1074.3,666.4 1074.5,668.9 1074.8,672.7 C1075.1,676.5 1076.0,682.1 1075.8,685.6 C1075.6,689.1 1074.1,692.2 1073.8,693.5" stroke-width="3.2"/>
<path d="M1071.8,650.9 C1073.5,652.0 1078.8,655.3 1081.7,657.8 C1084.7,660.3 1087.4,663.1 1089.7,665.8 C1092.0,668.4 1093.6,670.9 1095.6,673.7 C1097.6,676.5 1099.6,679.6 1101.6,682.6 C1103.5,685.6 1105.5,688.4 1107.5,691.5 C1109.5,694.7 1111.5,698.1 1113.5,701.4 C1115.4,704.7 1117.8,708.6 1119.4,711.4 C1121.1,714.1 1122.7,716.7 1123.4,717.8" stroke-width="2.9"/>
<path d="M1077.8,675.7 C1078.9,675.2 1082.6,672.4 1084.7,672.7 C1086.9,673.0 1090.2,675.8 1090.7,677.7 C1091.2,679.5 1089.3,682.4 1087.7,683.6 C1086.0,684.8 1082.4,685.3 1080.7,684.6 C1079.1,683.9 1078.3,680.5 1077.8,679.6"/>
<path d="M1081.7,717.8 C1083.4,716.6 1088.3,712.4 1091.7,710.4 C1095.0,708.3 1098.3,706.9 1101.6,705.4 C1104.9,703.9 1108.2,702.9 1111.5,701.4 C1114.8,700.0 1118.9,697.8 1121.4,696.5 C1123.9,695.2 1125.5,694.0 1126.3,693.5"/>
<path d="M1054.0,699.5 C1055.0,700.8 1057.9,704.3 1059.9,707.4 C1061.9,710.4 1064.9,716.1 1065.9,717.8"/>
<path d="M1084.7,660.8 C1085.9,661.5 1089.8,663.3 1091.7,664.8 C1093.5,666.3 1094.5,667.6 1095.6,669.7 C1096.8,671.9 1098.1,676.3 1098.6,677.7" stroke-width="3.4"/>
<path d="M1099.6,663.8 C1100.9,664.9 1104.9,667.9 1107.5,670.7 C1110.2,673.5 1113.1,677.2 1115.4,680.6 C1117.8,684.1 1119.7,688.1 1121.4,691.5 C1123.0,695.0 1124.4,697.8 1125.4,701.4 C1126.3,705.1 1127.0,711.4 1127.3,713.3"/>
<path d="M1074.8,660.8 C1076.0,661.1 1079.9,661.6 1081.7,662.8 C1083.6,663.9 1085.0,666.9 1085.7,667.7" stroke-width="2.9"/>
<circle cx="1109.5" cy="668.7" r="3.6" fill="#000" stroke="none"/>
<path d="M1001.8,721.0 C1000.9,722.6 998.5,727.7 996.8,730.9 C995.1,734.0 992.7,736.7 991.8,739.8 C991.0,742.9 991.0,746.7 991.8,749.7 C992.7,752.7 995.5,755.3 996.8,757.6 C998.1,759.9 998.1,761.9 999.8,763.6 C1001.4,765.2 1004.4,766.9 1006.7,767.5 C1009.0,768.2 1011.5,767.9 1013.7,767.5 C1015.8,767.2 1018.6,765.9 1019.6,765.6"/>
<path d="M1019.6,765.6 C1019.4,763.9 1019.1,759.0 1018.6,755.7 C1018.1,752.3 1017.8,749.0 1016.6,745.7 C1015.5,742.4 1013.7,738.8 1011.7,735.8 C1009.7,732.9 1006.4,730.3 1004.7,727.9 C1003.1,725.5 1002.3,722.5 1001.8,721.5"/>
<path d="M1019.6,765.6 C1021.9,765.4 1029.5,764.9 1033.5,764.6 C1037.4,764.2 1040.0,763.6 1043.4,763.6 C1046.8,763.6 1052.1,764.4 1053.8,764.6"/>
<path d="M1019.6,765.6 C1021.3,766.1 1026.2,767.4 1029.5,768.5 C1032.8,769.7 1036.1,771.3 1039.4,772.5 C1042.7,773.7 1046.9,774.7 1049.3,775.5 C1051.7,776.3 1053.1,777.1 1053.8,777.5"/>
<path d="M1001.8,721.0 C1001.4,720.5 1000.4,718.8 999.8,718.0 C999.1,717.2 998.1,716.3 997.8,716.0"/>
<path d="M1037.4,728.9 C1038.4,729.4 1041.6,732.0 1043.4,731.9 C1045.2,731.7 1047.2,729.5 1048.3,727.9 C1049.5,726.2 1050.0,723.9 1050.3,721.9 C1050.7,720.0 1050.3,717.0 1050.3,716.0"/>
<path d="M1023.6,716.0 C1023.9,717.0 1024.6,720.1 1025.5,721.9 C1026.5,723.8 1028.2,725.7 1029.5,726.9 C1030.8,728.1 1032.2,728.9 1033.5,728.9 C1034.8,728.9 1036.8,728.4 1037.4,726.9 C1038.1,725.4 1037.6,721.8 1037.4,720.0 C1037.3,718.1 1038.8,716.7 1036.5,716.0 C1034.1,715.3 1025.7,716.0 1023.6,716.0 Z" fill="#000" stroke="none"/>
<path d="M1006.7,716.0 C1007.0,716.8 1007.5,720.0 1008.7,721.0 C1009.9,721.9 1012.5,722.4 1013.7,721.9 C1014.8,721.5 1015.3,718.6 1015.6,718.0"/>
<path d="M1119.4,716.0 C1119.7,717.7 1120.7,722.6 1121.4,725.9 C1122.1,729.2 1122.9,733.3 1123.4,735.8 C1123.9,738.3 1124.2,740.0 1124.4,740.8"/>
<path d="M1055.0,721.0 C1055.8,722.3 1058.1,726.1 1059.9,728.9 C1061.7,731.7 1063.9,735.2 1065.9,737.8 C1067.9,740.5 1069.2,742.8 1071.8,744.7 C1074.5,746.7 1078.4,749.2 1081.7,749.7 C1085.0,750.2 1089.3,748.5 1091.7,747.7 C1094.0,746.9 1095.3,746.1 1095.6,744.7 C1095.9,743.4 1095.3,741.8 1093.6,739.8 C1092.0,737.8 1088.3,735.0 1085.7,732.9 C1083.1,730.7 1079.6,728.7 1077.8,726.9 C1076.0,725.1 1075.3,723.4 1074.8,721.9 C1074.3,720.5 1074.8,718.6 1074.8,718.0"/>
<path d="M1073.8,720.0 C1073.5,721.5 1073.0,725.4 1071.8,728.9 C1070.7,732.4 1068.5,737.1 1066.9,740.8 C1065.2,744.4 1063.6,747.4 1061.9,750.7 C1060.3,754.0 1058.3,757.8 1057.0,760.6 C1055.6,763.4 1054.5,766.4 1054.0,767.5"/>
<path d="M1056.0,767.5 C1056.6,768.2 1058.4,770.7 1059.9,771.5 C1061.4,772.3 1062.9,772.6 1064.9,772.5 C1066.9,772.4 1069.2,771.5 1071.8,771.0 C1074.5,770.5 1078.1,770.6 1080.7,769.5 C1083.4,768.5 1085.2,766.6 1087.7,764.6 C1090.2,762.6 1092.8,759.9 1095.6,757.6 C1098.4,755.3 1101.6,752.8 1104.5,750.7 C1107.5,748.5 1110.2,746.6 1113.5,744.7 C1116.8,742.9 1122.5,740.6 1124.4,739.8"/>
<path d="M1054.0,771.5 C1054.8,772.2 1057.8,774.2 1058.9,775.5 C1060.1,776.8 1061.3,778.3 1060.9,779.4 C1060.6,780.6 1058.3,782.1 1057.0,782.4 C1055.6,782.7 1053.7,781.6 1053.0,781.4"/>
<path d="M1053.0,769.5 C1053.8,769.4 1056.8,768.2 1057.9,768.5 C1059.1,768.9 1059.6,771.0 1059.9,771.5"/>
</g>
</g>
<rect x="1098.8" y="639.8" width="13.5" height="6" fill="#b8b8b8"/><rect x="1116.4" y="640.3" width="10" height="5" rx="2" fill="#111"/>
<rect x="1103.2" y="783.2" width="8.8" height="8" rx="3" fill="#b8b8b8"/><rect x="1116.5" y="784.5" width="10.8" height="5.6" rx="2.5" fill="#111"/>
<g transform="translate(1190 638) scale(0.20446)" fill="none" stroke="#000" stroke-width="12.5" stroke-linecap="round" stroke-linejoin="round">
<clipPath id="clipd1"><circle cx="406" cy="396.7" r="373"/></clipPath>
<g clip-path="url(#clipd1)">
<path d="M400.0,14.0 L400.0,780.0" stroke-width="13"/>
<path d="M24.0,405.0 L786.0,405.0" stroke-width="13"/>
<path d="M410.0,120.0 L600.0,70.0"/>
<path d="M410.0,150.0 L600.0,110.0 L610.0,250.0"/>
<path d="M600.0,90.0 L590.0,400.0 L580.0,700.0" stroke-width="13.6"/>
<path d="M430.0,180.0 L500.0,450.0 L560.0,700.0" stroke-width="11.9"/>
<path d="M460.0,200.0 L520.0,650.0"/>
<path d="M740.0,250.0 L590.0,400.0"/>
<path d="M720.0,420.0 L600.0,200.0"/>
<path d="M720.0,420.0 L560.0,380.0"/>
<path d="M720.0,420.0 L620.0,540.0"/>
<path d="M740.0,250.0 L700.0,400.0 L760.0,470.0"/>
<path d="M640.0,230.0 L760.0,470.0"/>
<path d="M600.0,200.0 L740.0,250.0"/>
<path d="M620.0,700.0 L700.0,500.0 L745.0,480.0"/>
<path d="M480.0,500.0 L540.0,720.0"/>
<path d="M520.0,500.0 L500.0,720.0"/>
<path d="M580.0,400.0 L640.0,560.0 L620.0,600.0"/>
<path d="M100.0,200.0 C116.7,188.3 173.3,148.3 200.0,130.0 C226.7,111.7 243.3,95.0 260.0,90.0 C276.7,85.0 288.3,92.5 300.0,100.0 C311.7,107.5 313.3,131.7 330.0,135.0 C346.7,138.3 388.3,122.5 400.0,120.0"/>
<path d="M90.0,380.0 L120.0,300.0 L150.0,220.0 L200.0,150.0"/>
<path d="M80.0,360.0 L200.0,400.0 L380.0,380.0"/>
<path d="M130.0,230.0 L250.0,300.0 L400.0,330.0 L560.0,300.0"/>
<path d="M200.0,140.0 L260.0,250.0 L380.0,300.0 L500.0,230.0 L600.0,250.0"/>
<path d="M110.0,290.0 L250.0,210.0 L400.0,180.0 L560.0,200.0"/>
<path d="M150.0,330.0 L300.0,270.0 L450.0,300.0 L600.0,330.0"/>
<path d="M240.0,120.0 L220.0,250.0 L250.0,400.0 L230.0,470.0"/>
<path d="M300.0,130.0 L350.0,260.0 L330.0,400.0 L380.0,520.0"/>
<path d="M360.0,110.0 L380.0,250.0 L360.0,380.0 L400.0,480.0" stroke-width="13.6"/>
<path d="M200.0,180.0 L330.0,190.0 L450.0,140.0 L560.0,150.0"/>
<path d="M120.0,260.0 L200.0,330.0 L330.0,340.0 L470.0,380.0 L600.0,360.0"/>
<path d="M440.0,200.0 L560.0,260.0 L650.0,330.0"/>
<path d="M430.0,330.0 L520.0,260.0 L600.0,180.0"/>
<path d="M450.0,420.0 L560.0,340.0 L640.0,240.0"/>
<path d="M170.0,490.0 C175.0,499.2 185.0,533.0 200.0,545.0 C215.0,557.0 241.3,564.2 260.0,562.0 C278.7,559.8 305.3,544.0 312.0,532.0 C318.7,520.0 310.3,498.7 300.0,490.0 C289.7,481.3 263.3,476.7 250.0,480.0 C236.7,483.3 220.0,500.0 220.0,510.0 C220.0,520.0 245.0,535.0 250.0,540.0"/>
<path d="M150.0,420.0 C151.7,430.0 153.3,456.7 160.0,480.0 C166.7,503.3 175.0,540.0 190.0,560.0 C205.0,580.0 226.7,600.0 250.0,600.0 C273.3,600.0 308.3,576.7 330.0,560.0 C351.7,543.3 371.7,510.0 380.0,500.0"/>
<path d="M180.0,640.0 L250.0,590.0 L330.0,560.0"/>
<path d="M180.0,655.0 C191.7,650.0 230.0,630.8 250.0,625.0 C270.0,619.2 285.0,614.2 300.0,620.0 C315.0,625.8 328.3,646.7 340.0,660.0 C351.7,673.3 365.0,693.3 370.0,700.0"/>
<path d="M180.0,640.0 L230.0,690.0"/>
<path d="M80.0,420.0 L130.0,560.0 L180.0,640.0"/>
<path d="M230.0,470.0 L330.0,450.0 L400.0,480.0"/>
<path d="M300.0,600.0 L400.0,540.0 L480.0,500.0"/>
<path d="M70.0,340.0 C73.3,326.7 80.0,285.0 90.0,260.0 C100.0,235.0 113.3,211.7 130.0,190.0 C146.7,168.3 168.3,145.8 190.0,130.0 C211.7,114.2 248.3,100.8 260.0,95.0" stroke-width="11.9"/>
<path d="M170.0,160.0 L300.0,150.0 L400.0,170.0" stroke-width="15.3"/>
<path d="M200.0,260.0 L330.0,230.0 L420.0,260.0" stroke-width="15.3"/>
<path d="M560.0,120.0 L600.0,160.0 L590.0,260.0" stroke-width="17"/>
<path d="M380.0,180.0 L400.0,300.0 L390.0,420.0" stroke-width="17"/>
<path d="M120.0,330.0 L200.0,350.0 L300.0,380.0" stroke-width="13.6"/>
<path d="M420.0,300.0 L520.0,330.0 L600.0,300.0" stroke-width="13.6"/>
<path d="M190.0,440.0 L260.0,470.0 L340.0,480.0" stroke-width="13.6"/>
<path d="M540.0,520.0 L600.0,580.0 L650.0,560.0" stroke-width="13.6"/>
<path d="M440.0,560.0 L470.0,640.0 L520.0,700.0" stroke-width="11.9"/>
<path d="M230.0,640.0 L300.0,690.0 L380.0,720.0" stroke-width="11.9"/>
<path d="M140.0,480.0 L180.0,600.0 L260.0,690.0" stroke-width="11.9"/>
<path d="M283.1,325.1 C268.3,341.2 227.9,396.6 194.3,421.8 C160.7,447.0 100.3,467.2 81.5,476.3" stroke-width="12.5"/>
<path d="M99.0,245.0 C85.0,244.9 49.9,238.1 15.3,244.4 C-19.3,250.6 -87.9,276.0 -108.5,282.4" stroke-width="12.5"/>
<path d="M235.4,181.5 C229.1,195.7 201.9,233.5 197.3,266.6 C192.8,299.7 206.2,361.1 208.0,380.0" stroke-width="12.5"/>
<path d="M176.6,375.7 C170.3,380.7 156.3,389.5 138.7,405.5 C121.2,421.4 82.4,460.3 71.1,471.3" stroke-width="12.5"/>
<path d="M585.2,158.0 C603.0,155.8 651.4,144.2 691.7,144.5 C732.0,144.7 804.6,156.9 827.2,159.4" stroke-width="12.5"/>
<path d="M694.7,381.7 C708.1,399.9 748.9,457.6 774.9,491.0 C801.0,524.5 838.5,567.3 851.2,582.6" stroke-width="12.5"/>
<path d="M461.4,402.3 C452.7,418.2 433.1,462.5 409.2,497.7 C385.2,532.8 332.8,593.9 317.5,613.2" stroke-width="12.5"/>
<path d="M499.5,463.1 C507.4,468.7 527.7,487.1 546.9,496.5 C566.0,506.0 602.9,515.8 614.1,519.6" stroke-width="12.5"/>
</g>
<circle cx="406" cy="396.7" r="373" stroke-width="13"/>
</g>
<g transform="translate(1400 635) scale(0.20446)" fill="none" stroke="#000" stroke-width="12.5" stroke-linecap="round" stroke-linejoin="round">
<clipPath id="clipd2"><circle cx="400.6" cy="404" r="375"/></clipPath>
<g clip-path="url(#clipd2)">
<path d="M400.0,20.0 L400.0,780.0" stroke-width="13"/>
<path d="M20.0,405.0 L785.0,405.0" stroke-width="13"/>
<path d="M170.0,225.0 C175.0,212.5 181.7,172.2 200.0,150.0 C218.3,127.8 255.0,105.3 280.0,92.0 C305.0,78.7 331.3,67.0 350.0,70.0 C368.7,73.0 383.7,93.3 392.0,110.0 C400.3,126.7 398.7,160.0 400.0,170.0"/>
<path d="M110.0,240.0 L170.0,230.0 L260.0,230.0 L400.0,240.0"/>
<path d="M110.0,240.0 C114.2,253.3 135.8,285.0 135.0,320.0 C134.2,355.0 112.5,415.0 105.0,450.0 C97.5,485.0 92.5,516.7 90.0,530.0"/>
<path d="M90.0,530.0 C100.0,525.0 123.3,508.3 150.0,500.0 C176.7,491.7 220.0,476.7 250.0,480.0 C280.0,483.3 305.0,509.7 330.0,520.0 C355.0,530.3 375.0,537.0 400.0,542.0 C425.0,547.0 455.8,553.7 480.0,550.0 C504.2,546.3 534.2,525.0 545.0,520.0"/>
<path d="M110.0,240.0 C125.0,261.7 171.7,326.7 200.0,370.0 C228.3,413.3 258.3,458.3 280.0,500.0 C301.7,541.7 313.3,583.3 330.0,620.0 C346.7,656.7 368.0,698.0 380.0,720.0 C392.0,742.0 398.3,746.7 402.0,752.0"/>
<path d="M402.0,752.0 C418.3,743.3 467.0,722.0 500.0,700.0 C533.0,678.0 566.7,653.3 600.0,620.0 C633.3,586.7 674.7,533.3 700.0,500.0 C725.3,466.7 743.3,433.3 752.0,420.0"/>
<path d="M752.0,420.0 L650.0,560.0 L572.0,680.0" stroke-width="11.9"/>
<path d="M562.0,675.0 C564.2,673.2 571.0,663.2 575.0,664.0 C579.0,664.8 586.2,675.0 586.0,680.0 C585.8,685.0 578.0,694.8 574.0,694.0 C570.0,693.2 564.0,678.2 562.0,675.0" fill="#000"/>
<path d="M740.0,400.0 C743.7,399.7 757.3,395.0 762.0,398.0 C766.7,401.0 769.7,412.3 768.0,418.0 C766.3,423.7 757.0,431.7 752.0,432.0 C747.0,432.3 740.0,425.3 738.0,420.0 C736.0,414.7 739.7,403.3 740.0,400.0" fill="#000"/>
<path d="M752.0,410.0 L560.0,380.0 L400.0,400.0"/>
<path d="M752.0,410.0 L680.0,300.0 L620.0,220.0 L560.0,130.0"/>
<path d="M470.0,60.0 L430.0,130.0 L400.0,200.0" stroke-width="11.9"/>
<path d="M470.0,60.0 L490.0,150.0 L500.0,300.0 L520.0,520.0" stroke-width="13.6"/>
<path d="M460.0,72.0 C462.3,70.3 469.7,60.7 474.0,62.0 C478.3,63.3 485.7,73.7 486.0,80.0 C486.3,86.3 479.8,97.7 476.0,100.0 C472.2,102.3 465.7,98.7 463.0,94.0 C460.3,89.3 460.5,75.7 460.0,72.0" fill="#000"/>
<path d="M520.0,150.0 C533.3,141.7 576.3,96.7 600.0,100.0 C623.7,103.3 645.0,145.0 662.0,170.0 C679.0,195.0 704.0,223.3 702.0,250.0 C700.0,276.7 670.3,311.7 650.0,330.0 C629.7,348.3 591.7,355.0 580.0,360.0"/>
<path d="M520.0,200.0 L620.0,300.0"/>
<path d="M540.0,180.0 L640.0,280.0"/>
<path d="M500.0,240.0 L600.0,340.0"/>
<path d="M560.0,160.0 L680.0,260.0"/>
<path d="M600.0,120.0 L700.0,280.0 L640.0,340.0"/>
<path d="M660.0,150.0 L560.0,300.0 L480.0,420.0"/>
<path d="M700.0,240.0 L560.0,330.0 L420.0,380.0"/>
<path d="M430.0,100.0 L470.0,250.0 L540.0,400.0 L520.0,520.0"/>
<path d="M130.0,320.0 L250.0,300.0 L400.0,280.0"/>
<path d="M100.0,450.0 L200.0,420.0 L300.0,360.0 L400.0,330.0"/>
<path d="M120.0,470.0 L220.0,460.0 L330.0,440.0"/>
<path d="M170.0,230.0 L230.0,330.0 L330.0,480.0 L400.0,540.0"/>
<path d="M200.0,280.0 L300.0,250.0 L400.0,200.0"/>
<path d="M160.0,330.0 L260.0,380.0 L400.0,470.0 L520.0,520.0"/>
<path d="M260.0,230.0 L260.0,350.0 L300.0,440.0" stroke-width="13.6"/>
<path d="M400.0,460.0 L480.0,540.0 L550.0,510.0 L580.0,420.0"/>
<path d="M430.0,450.0 L520.0,480.0 L560.0,380.0"/>
<path d="M230.0,225.0 L330.0,200.0 L400.0,215.0" stroke-width="18.7"/>
<path d="M260.0,290.0 L340.0,280.0 L420.0,300.0" stroke-width="25.5"/>
<path d="M380.0,300.0 L400.0,380.0 L410.0,450.0" stroke-width="30.6"/>
<path d="M300.0,330.0 L380.0,360.0 L460.0,330.0" stroke-width="17"/>
<path d="M420.0,250.0 L470.0,330.0 L450.0,420.0" stroke-width="15.3"/>
<path d="M330.0,210.0 L380.0,260.0 L440.0,240.0" stroke-width="13.6"/>
<path d="M180.0,250.0 L240.0,290.0 L300.0,300.0" stroke-width="15.3"/>
<path d="M430.0,140.0 L450.0,220.0 L440.0,300.0" stroke-width="18.7"/>
<path d="M520.0,260.0 L580.0,300.0 L640.0,300.0" stroke-width="15.3"/>
<path d="M540.0,400.0 L600.0,440.0 L560.0,500.0" stroke-width="13.6"/>
<path d="M300.0,420.0 L360.0,470.0 L420.0,500.0" stroke-width="15.3"/>
<path d="M140.0,400.0 L200.0,440.0 L260.0,430.0" stroke-width="11.9"/>
<path d="M620.0,200.0 L680.0,220.0 L700.0,300.0" stroke-width="13.6"/>
<path d="M460.1,418.4 C456.4,430.7 437.1,470.3 438.2,492.1 C439.2,514.0 461.6,540.0 466.2,549.6" stroke-width="13"/>
<path d="M366.4,400.3 C370.7,417.6 379.9,474.5 392.3,504.1 C404.8,533.6 432.9,565.4 441.0,577.7" stroke-width="13"/>
<path d="M441.6,300.1 C437.3,315.6 419.0,362.9 415.4,393.0 C411.7,423.1 419.1,466.0 419.8,480.6" stroke-width="13"/>
<path d="M463.5,257.0 C454.0,264.4 431.2,284.0 406.4,301.6 C381.6,319.2 330.1,352.4 314.9,362.6" stroke-width="13"/>
<path d="M257.0,412.1 C243.2,416.9 194.9,426.4 174.0,441.1 C153.1,455.8 138.6,490.5 131.5,500.4" stroke-width="13"/>
<path d="M414.1,264.4 C397.6,267.9 343.0,280.9 314.8,285.2 C286.7,289.5 257.0,289.5 245.5,290.4" stroke-width="13"/>
<path d="M330.2,499.8 C316.0,506.0 276.0,527.7 245.2,536.6 C214.5,545.6 162.4,550.8 145.8,553.7" stroke-width="12.5"/>
<path d="M552.8,512.9 C567.8,512.5 614.5,508.2 642.8,510.7 C671.1,513.3 709.4,525.2 722.7,528.1" stroke-width="12.5"/>
<path d="M444.6,246.9 C426.4,254.2 365.4,278.8 335.4,290.6 C305.4,302.5 276.4,313.5 264.6,318.1" stroke-width="12.5"/>
</g>
<circle cx="400.6" cy="404" r="375" stroke-width="13"/>
</g>
<g fill="#555">
<rect x="1319" y="642" width="14" height="7" fill="#b8b8b8"/><rect x="1334" y="643.5" width="13" height="5.5" rx="2" fill="#111"/>
<rect x="1324" y="787" width="9" height="6" fill="#b8b8b8"/><rect x="1334" y="788.5" width="13" height="5" rx="2" fill="#111"/>
<rect x="1528" y="638.5" width="14" height="7" fill="#b8b8b8"/><rect x="1543" y="640" width="13" height="5.5" rx="2" fill="#111"/>
<rect x="1533" y="785" width="9" height="6" fill="#b8b8b8"/><rect x="1543" y="786" width="13" height="5" rx="2" fill="#111"/>
</g>
</g>
</svg>
</body>
</html>
